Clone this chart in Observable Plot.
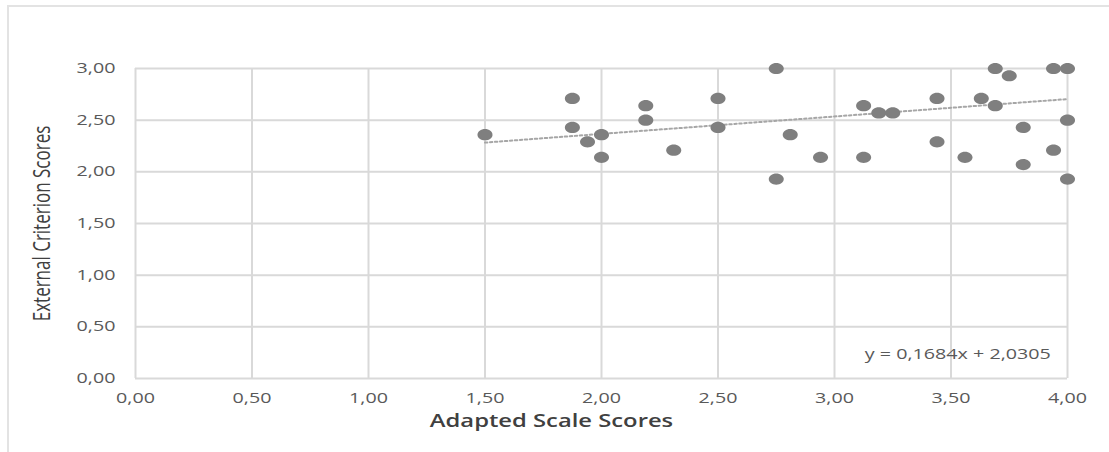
<!DOCTYPE html>
<html>
<head>
<meta charset="utf-8">
<script src="https://cdn.jsdelivr.net/npm/d3@7"></script>
<script src="https://cdn.jsdelivr.net/npm/@observablehq/plot@0.6"></script>
<style>
  html, body { margin: 0; padding: 0; background: #fff; overflow: hidden; }
  #wrap { position: relative; width: 1109px; height: 452px; }
  #frame { position: absolute; left: 7px; top: 5px; width: 1300px; height: 600px;
           border: 2px solid #e3e3e3; box-sizing: border-box; pointer-events: none; }
  #chart { position: absolute; left: 0; top: 0; }
</style>
</head>
<body>
<div id="wrap"><div id="frame"></div><div id="chart"></div></div>
<script>
// Data
const adaptedScale = [1.50, 1.875, 1.875, 1.94, 2.00, 2.00, 2.19, 2.19, 2.31, 2.50, 2.50, 2.75, 2.75, 2.81,
  2.94, 3.125, 3.125, 3.19, 3.25, 3.44, 3.44, 3.56, 3.63, 3.69, 3.69, 3.75, 3.81, 3.81, 3.94, 3.94, 4.00, 4.00, 4.00];
const externalCriterion = [2.36, 2.71, 2.43, 2.29, 2.36, 2.14, 2.64, 2.50, 2.21, 2.71, 2.43, 3.00, 1.93, 2.36,
  2.14, 2.64, 2.14, 2.57, 2.57, 2.71, 2.29, 2.14, 2.71, 3.00, 2.64, 2.93, 2.43, 2.07, 3.00, 2.21, 3.00, 2.50, 1.93];
const trendSlope = 0.1684;
const trendIntercept = 2.0305;
const trendRange = [1.50, 4.00];
const xTicks = [0, 0.5, 1, 1.5, 2, 2.5, 3, 3.5, 4];
const yTicks = [0, 0.5, 1, 1.5, 2, 2.5, 3];
const xTitle = "Adapted Scale Scores";
const yTitle = "External Criterion Scores";
const equationText = "y = 0,1684x + 2,0305";

const points = adaptedScale.map((x, i) => ({x, y: externalCriterion[i]}));
const trend = trendRange.map(x => ({x, y: trendSlope * x + trendIntercept}));
const fmt = d => d.toFixed(2).replace(".", ",");

// the reference image is stretched horizontally; markers are wider than tall
const STRETCH = 1.36;
const ellipse = {
  draw(context, size) {
    const rx = 7.5, ry = 5.6, k = 0.5523;
    context.moveTo(rx, 0);
    context.bezierCurveTo(rx, k * ry, k * rx, ry, 0, ry);
    context.bezierCurveTo(-k * rx, ry, -rx, k * ry, -rx, 0);
    context.bezierCurveTo(-rx, -k * ry, -k * rx, -ry, 0, -ry);
    context.bezierCurveTo(k * rx, -ry, rx, -k * ry, rx, 0);
    context.closePath();
  }
};

const plot = Plot.plot({
  width: 1109,
  height: 452,
  marginLeft: 135,
  marginRight: 42,
  marginTop: 68,
  marginBottom: 74,
  style: {fontFamily: "'Open Sans', sans-serif", fontSize: "14px", color: "#595959", background: "transparent"},
  x: {domain: [0, 4], ticks: xTicks, tickFormat: fmt, label: null},
  y: {domain: [0, 3], ticks: yTicks, tickFormat: fmt, label: null},
  marks: [
    Plot.gridX(xTicks, {stroke: "#d9d9d9", strokeWidth: 2, strokeOpacity: 1}),
    Plot.gridY(yTicks, {stroke: "#d9d9d9", strokeWidth: 2, strokeOpacity: 1}),
    Plot.axisX(xTicks, {tickSize: 0, tickPadding: 14, tickFormat: fmt, fill: "#595959", fontSize: 14.5, label: null}),
    Plot.axisY(yTicks, {tickSize: 0, tickPadding: 20, tickFormat: fmt, fill: "#595959", fontSize: 14.5, label: null}),
    Plot.line(trend, {x: "x", y: "y", stroke: "#a6a6a6", strokeWidth: 2, strokeDasharray: "2.4 2.6"}),
    Plot.dot(points, {x: "x", y: "y", symbol: ellipse, r: 6, fill: "#7f7f7f", stroke: "none"}),
    Plot.text([equationText], {x: 3.13, y: 0.23, text: d => d, textAnchor: "start", fill: "#595959", fontSize: 14.5}),
    Plot.text([xTitle], {frameAnchor: "bottom", dx: -50, dy: 48, textAnchor: "middle", text: d => d, fill: "#404040", fontSize: 17.5, fontWeight: 600}),
    Plot.text([yTitle], {frameAnchor: "left", dx: -93, rotate: -90, textAnchor: "middle", text: d => d, fill: "#404040", fontSize: 17})
  ]
});

// apply the horizontal stretch of the reference to every text, around its own anchor point
d3.select(plot).selectAll("text").each(function() {
  const t = this.getAttribute("transform") || "";
  const m = t.match(/^\s*translate\([^)]*\)/);
  const head = m ? m[0] : "";
  const rest = m ? t.slice(m[0].length) : t;
  const xa = this.getAttribute("x");
  if (xa !== null && /^-?[\d.]+$/.test(xa) && !/rotate/.test(rest)) this.setAttribute("x", +xa / STRETCH);
  this.setAttribute("transform", `${head} scale(${STRETCH},1) ${rest}`);
});
document.getElementById("chart").appendChild(plot);
</script>
</body>
</html>
